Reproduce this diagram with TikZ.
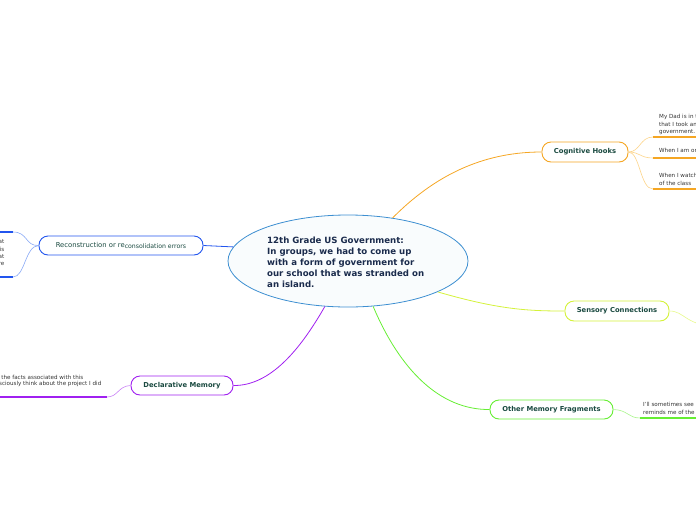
\documentclass[tikz,border=0pt]{standalone}
\usepackage{fontspec}
\setmainfont{DejaVu Sans}
\usetikzlibrary{shapes.geometric}
\definecolor{cblue}{HTML}{3D8FD1}
\definecolor{cfill}{HTML}{F9FCFD}
\definecolor{navy}{HTML}{1A2B4C}
\definecolor{teal}{HTML}{1A4A40}
\definecolor{corange}{HTML}{F5A623}
\definecolor{lorange}{HTML}{FCD48A}
\definecolor{cyel}{HTML}{D4F23A}
\definecolor{lyel}{HTML}{E6F98A}
\definecolor{cgreen}{HTML}{66EE33}
\definecolor{lgreen}{HTML}{A8F58A}
\definecolor{cpurple}{HTML}{A020F0}
\definecolor{lpurple}{HTML}{C880F5}
\definecolor{cblu}{HTML}{2255EE}
\definecolor{lblu}{HTML}{88A8F5}
\definecolor{small}{HTML}{333333}
\begin{document}
\begin{tikzpicture}[x=1pt,y=-1pt,
  branch/.style={draw, rounded corners=9, fill=white, line width=0.9pt, text=teal,
     font=\fontsize{6.8}{7}\selectfont\bfseries, inner sep=0, minimum height=20},
  conn/.style={line width=0.8pt},
  sub/.style={line width=0.6pt},
  uline/.style={line width=1.8pt},
  stext/.style={font=\fontsize{5.6}{7.3}\selectfont, text=small, inner sep=0, align=left}
]
\useasboundingbox (0,0) rectangle (696,520);
% central
\node[ellipse, draw=cblue, fill=cfill, line width=0.8pt, minimum width=240, minimum height=92, inner sep=0] (c) at (348,261) {};
\node[font=\fontsize{8.6}{11}\selectfont\bfseries, text=navy, align=left, inner sep=0, anchor=north west] (ct) at (267,237)
 {12th Grade US Government:\\In groups, we had to come up\\with a form of government for\\our school that was stranded on\\an island.};
% branches
\node[branch, draw=corange, minimum width=86] (cog) at (585,152) {Cognitive Hooks};
\node[branch, draw=cyel, minimum width=104] (sen) at (617,311) {Sensory Connections};
\node[branch, draw=cgreen, minimum width=123, minimum height=19] (oth) at (551.5,409.5) {Other Memory Fragments};
\node[branch, draw=cpurple, minimum width=102, minimum height=19] (dec) at (182,385.5) {Declarative Memory};
\node[branch, draw=cblu, minimum width=164, minimum height=19, font=\fontsize{6.8}{7}\selectfont] (rec) at (121,245.5) {Reconstruction or re{\fontsize{6.2}{7}\selectfont\raisebox{-0.6pt}{consolidation errors}}};
% main connectors
\draw[conn, corange] (c.44) .. controls (440,170) and (490,152) .. (cog.west);
\draw[conn, cyel] (c.-19) .. controls (500,310) and (530,311) .. (sen.west);
\draw[conn, cgreen] (c.-61) .. controls (400,370) and (440,410) .. (oth.west);
\draw[conn, cpurple] (c.-117) .. controls (300,350) and (270,386) .. (dec.east);
\draw[conn, cblu] (c.173) -- (rec.east);
% cognitive hooks sub branches
\coordinate (h1) at (653,137); \coordinate (h1e) at (700,137);
\coordinate (h2) at (653,158); \coordinate (h2e) at (700,158);
\coordinate (h3) at (653,189); \coordinate (h3e) at (700,189);
\draw[sub, lorange] (cog.east) .. controls (640,152) and (640,137) .. (h1);
\draw[sub, lorange] (cog.east) .. controls (640,152) and (640,158) .. (h2);
\draw[sub, lorange] (cog.east) .. controls (640,152) and (640,189) .. (h3);
\draw[uline, corange] (h1) -- (h1e);
\draw[uline, corange] (h2) -- (h2e);
\draw[uline, corange] (h3) -- (h3e);
\node[stext, anchor=north west] (t1) at (659,114.5) {My Dad is in the\\that I took an\\government.};
\node[stext, anchor=north west] (t2) at (659,148.5) {When I am on};
\node[stext, anchor=north west] (t3) at (659,173.5) {When I watch\\of the class};
% sensory
\coordinate (s1) at (720,327);
\draw[sub, lyel] (sen.east) .. controls (685,311) and (685,326) .. (s1);
% other memory
\coordinate (o1) at (640,418); \coordinate (o1e) at (700,418);
\draw[sub, lgreen] (oth.east) .. controls (628,410) and (628,418) .. (o1);
\draw[uline, cgreen] (o1) -- (o1e);
\node[stext, anchor=north west] (t4) at (643,402.5) {I'll sometimes see\\reminds me of the};
% declarative
\coordinate (d1) at (107,397); \coordinate (d1e) at (-5,397);
\draw[sub, lpurple] (dec.west) .. controls (118,386) and (118,397) .. (d1);
\draw[uline, cpurple] (d1) -- (d1e);
\node[stext, anchor=north east] (t5) at (83.5,375.5) {the facts associated with this};
\node[stext, anchor=north east] (t6) at (101.5,381.5) {consciously think about the project I did};
% reconstruction
\coordinate (r1) at (13,232); \coordinate (r1e) at (-5,232);
\coordinate (r2) at (13,277); \coordinate (r2e) at (-5,277);
\draw[sub, lblu] (rec.west) .. controls (25,246) and (28,232) .. (r1);
\draw[sub, lblu] (rec.west) .. controls (25,246) and (25,277) .. (r2);
\draw[uline, cblu] (r1) -- (r1e);
\draw[uline, cblu] (r2) -- (r2e);
\node[stext, anchor=north east, align=right] (t7) at (4.5,239.5) {that\\this\\that\\were};
\end{tikzpicture}
\end{document}
